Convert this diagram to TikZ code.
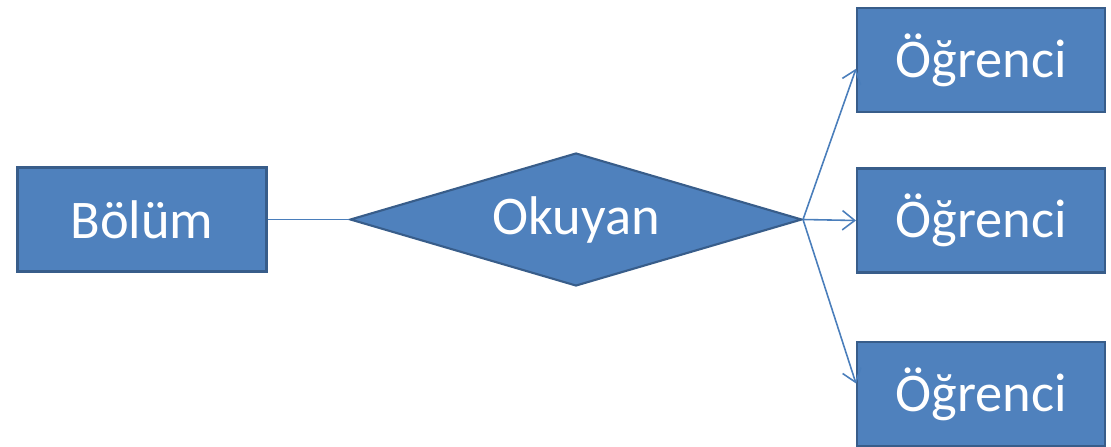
\documentclass[tikz,border=0pt]{standalone}
\usepackage{fontspec}
\setmainfont{Carlito}
\usetikzlibrary{shapes.geometric,arrows.meta}

\definecolor{boxfill}{HTML}{4F81BD}
\definecolor{boxline}{HTML}{385D8A}
\definecolor{linkcol}{HTML}{4A7EBB}

\tikzset{
  ent/.style={draw=boxline, fill=boxfill, line width=1.2pt, text=white,
    minimum width=4.98cm, minimum height=2.08cm, inner sep=0pt,
    font=\fontsize{31}{36}\selectfont},
  rel/.style={diamond, draw=boxline, fill=boxfill, line width=1.2pt, text=white,
    minimum width=9.04cm, minimum height=2.66cm, aspect=3.4, inner sep=0pt,
    font=\fontsize{31}{36}\selectfont},
  link/.style={draw=linkcol, line width=0.9pt},
  arr/.style={link, -{Straight Barb[length=7pt,width=11pt]}}
}

\begin{document}
\begin{tikzpicture}[x=0.02cm, y=-0.02cm]
                \useasboundingbox (0,0) rectangle (1111,446);
                \node[ent] (bolum) at (142,219.5) {Bölüm};
                \node[rel] (okuyan) at (576,219.5) {Okuyan};
                \node[ent, minimum width=4.96cm] (ogr1) at (981,60) {Öğrenci};
                \node[ent, minimum width=4.96cm] (ogr2) at (981,220.5) {Öğrenci};
                \node[ent, minimum width=4.96cm] (ogr3) at (981,394) {Öğrenci};
                \draw[link] (bolum.east) -- (okuyan.west);
                \draw[arr] (okuyan.east) -- ([yshift=-5pt]ogr1.west);
                \draw[arr] (okuyan.east) -- (ogr2.west);
                \draw[arr] (okuyan.east) -- ([yshift=6pt]ogr3.west);
            \end{tikzpicture}
\end{document}
